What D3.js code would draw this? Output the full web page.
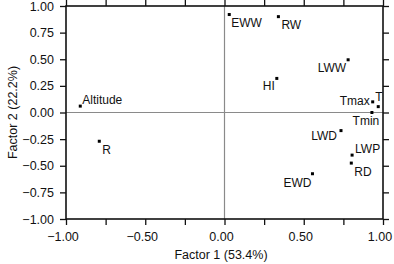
<!DOCTYPE html>
<html>
<head>
<meta charset="utf-8">
<script src="https://cdn.jsdelivr.net/npm/d3@7"></script>
<style>
  body { margin: 0; background: #fff; }
  svg { display: block; font-family: "Liberation Sans", Arial, sans-serif; }
</style>
</head>
<body>
<svg width="394" height="264"></svg>
<script>
// variable loadings
const names = ["Altitude", "R", "EWW", "RW", "LWW", "HI", "Tmax", "T", "Tmin", "LWD", "LWP", "RD", "EWD"];
const factor1 = [-0.91, -0.79, 0.03, 0.34, 0.78, 0.33, 0.935, 0.97, 0.93, 0.735, 0.805, 0.80, 0.555];
const factor2 = [0.06, -0.27, 0.92, 0.90, 0.495, 0.32, 0.10, 0.055, 0.0, -0.17, -0.40, -0.475, -0.575];

// label placement: anchor, dx, dy
const anchors = ["start", "start", "start", "start", "end", "end", "end", "start", "middle", "end", "start", "start", "end"];
const offX = [2, 3, 2, 3, -2, -2, -3, -3, -6, -4, 3, 3, -1];
const offY = [-2, 13, 12, 12, 12, 12, 3, -6, 12, 9, -2, 13, 13];

const ticks = [-1, -0.75, -0.5, -0.25, 0, 0.25, 0.5, 0.75, 1];
const xLabelled = [-1, -0.5, 0, 0.5, 1];

const points = names.map((n, i) => ({ name: n, x: factor1[i], y: factor2[i], anchor: anchors[i], dx: offX[i], dy: offY[i] }));

const svg = d3.select("svg");
const margin = { top: 6, right: 11, bottom: 45, left: 66 };
const width = 394 - margin.left - margin.right;
const height = 264 - margin.top - margin.bottom;

const x = d3.scaleLinear().domain([-1, 1]).range([margin.left, margin.left + width]);
const y = d3.scaleLinear().domain([-1, 1]).range([margin.top + height, margin.top]);

const fmt = d3.format(".2f");

// zero lines
svg.append("line")
    .attr("x1", x(0)).attr("x2", x(0))
    .attr("y1", y(1)).attr("y2", y(-1))
    .attr("stroke", "#8a8a8a").attr("stroke-width", 1.2);
svg.append("line")
    .attr("x1", x(-1)).attr("x2", x(1))
    .attr("y1", y(0)).attr("y2", y(0))
    .attr("stroke", "#8a8a8a").attr("stroke-width", 1.2);

// axes
const axisB = svg.append("g")
    .attr("transform", `translate(0,${y(-1)})`)
    .call(d3.axisBottom(x).tickValues(ticks).tickSizeOuter(0).tickPadding(7)
        .tickFormat(d => xLabelled.includes(d) ? fmt(d) : ""));
axisB.selectAll(".tick text").attr("dx", -3.5);
const axisL = svg.append("g")
    .attr("transform", `translate(${x(-1)},0)`)
    .call(d3.axisLeft(y).tickValues(ticks).tickSizeOuter(0).tickPadding(6).tickFormat(fmt));
const axisT = svg.append("g")
    .attr("transform", `translate(0,${y(1)})`)
    .call(d3.axisTop(x).tickValues(ticks).tickSizeOuter(0).tickFormat(""));
const axisR = svg.append("g")
    .attr("transform", `translate(${x(1)},0)`)
    .call(d3.axisRight(y).tickValues(ticks).tickSizeOuter(0).tickFormat(""));

[axisB, axisL, axisT, axisR].forEach(g => {
  g.select(".domain").remove();
  g.selectAll(".tick line").attr("stroke", "#111").attr("stroke-width", 1.3);
  g.selectAll(".tick text").attr("fill", "#111").style("font-size", "12.5px")
      .style("font-family", "'Liberation Sans', Arial, sans-serif");
});

// frame
svg.append("rect")
    .attr("x", x(-1)).attr("y", y(1))
    .attr("width", x(1) - x(-1)).attr("height", y(-1) - y(1))
    .attr("fill", "none").attr("stroke", "#111").attr("stroke-width", 1.6);

// points
svg.append("g").selectAll("rect")
    .data(points)
    .join("rect")
    .attr("x", d => x(d.x) - 1.5)
    .attr("y", d => y(d.y) - 1.5)
    .attr("width", 3).attr("height", 3)
    .attr("fill", "#000");

svg.append("g").selectAll("text")
    .data(points)
    .join("text")
    .attr("x", d => x(d.x) + d.dx)
    .attr("y", d => y(d.y) + d.dy)
    .attr("text-anchor", d => d.anchor)
    .attr("font-size", 12)
    .attr("fill", "#111")
    .text(d => d.name);

// axis titles
svg.append("text")
    .attr("x", 221).attr("y", 259)
    .attr("text-anchor", "middle")
    .attr("font-size", 12.5)
    .attr("fill", "#111")
    .text("Factor 1 (53.4%)");
svg.append("text")
    .attr("transform", `translate(17,${y(0)}) rotate(-90)`)
    .attr("text-anchor", "middle")
    .attr("font-size", 12.5)
    .attr("fill", "#111")
    .text("Factor 2 (22.2%)");
</script>
</body>
</html>
